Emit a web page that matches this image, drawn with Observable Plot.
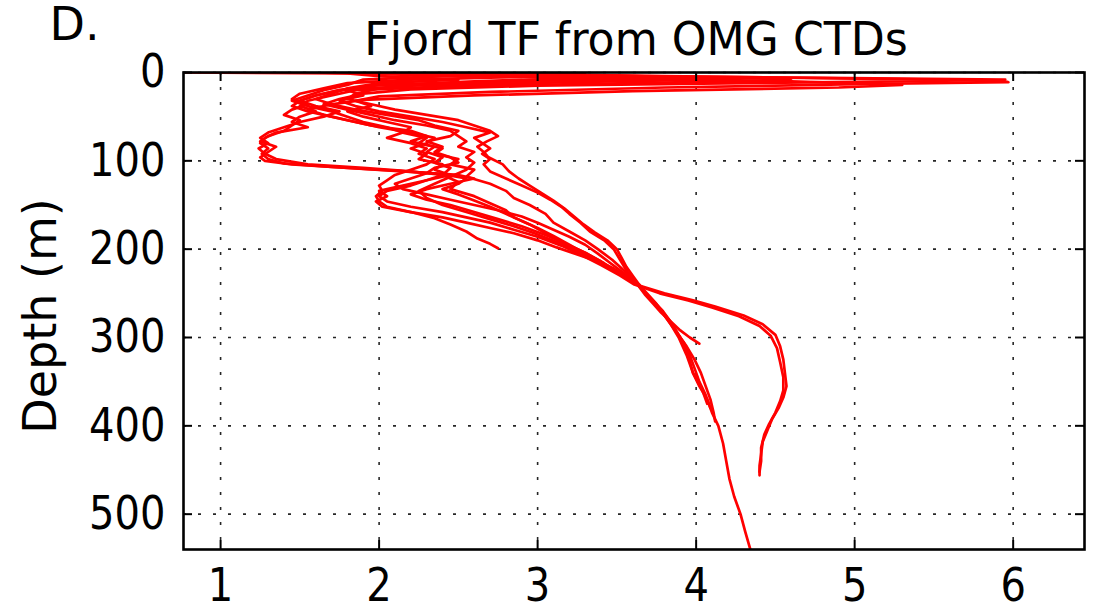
<!DOCTYPE html>
<html><head><meta charset="utf-8">
<script src="https://cdn.jsdelivr.net/npm/d3@7"></script>
<script src="https://cdn.jsdelivr.net/npm/@observablehq/plot@0.6"></script>
<style>
body{margin:0;background:#fff}
svg{font-family:"DejaVu Sans",sans-serif}
</style>
</head><body><div id="chart"></div>
<script>
const title = "Fjord TF from OMG CTDs";
const panelLabel = "D.";
const yLabel = "Depth (m)";
const xTicks = [1, 2, 3, 4, 5, 6];
const yTicks = [0, 100, 200, 300, 400, 500];

// each cast: [depth (m), thermal forcing]
const cast1 = [[0,2.1],[4,3.8],[9,5.9],[11,5.97],[13,5.1],[17,3.8],[22,2.7],[27,2.0],[32,1.85],[38,1.95],[44,1.8],[50,1.9],[56,2.05],[62,2.2],[68,2.15],[74,2.3],[80,2.25],[86,2.4],[92,2.35],[98,2.5],[104,2.45],[110,2.6],[118,2.55],[126,2.7],[134,2.8],[142,2.85],[150,2.95],[160,3.05],[170,3.1],[180,3.2],[190,3.3],[200,3.38],[212,3.47],[225,3.55],[240,3.63],[255,3.71],[270,3.79],[285,3.85],[300,3.9],[320,3.95],[340,3.98],[355,4.02],[370,4.07],[385,4.1],[400,4.14],[420,4.17],[440,4.19],[460,4.21],[480,4.24],[500,4.28],[520,4.31],[545,4.35]];
const cast2 = [[0,1.7],[5,3.2],[10,4.6],[14,5.3],[17,4.9],[21,3.6],[26,2.6],[31,1.9],[36,1.7],[42,1.55],[48,1.65],[54,1.8],[60,1.95],[66,2.2],[72,2.3],[78,2.2],[84,2.35],[90,2.3],[96,2.4],[102,2.35],[108,2.45],[116,2.4],[124,2.5],[132,2.45],[140,2.6],[148,2.7],[156,2.8],[164,2.85],[172,2.95],[182,3.05],[192,3.15],[204,3.3],[216,3.42],[228,3.53],[240,3.63],[252,3.69],[265,3.76],[280,3.83],[295,3.88],[310,3.94],[325,3.99],[340,4.03],[355,4.06],[370,4.09],[385,4.11],[395,4.12]];
const cast3 = [[0,1.9],[3,3.0],[7,4.5],[9,4.6],[12,3.6],[16,2.4],[20,1.85],[26,1.7],[32,1.55],[38,1.5],[44,1.6],[50,1.5],[56,1.45],[62,1.55],[68,1.35],[74,1.28],[80,1.25],[86,1.3],[92,1.26],[98,1.3],[103,1.4],[107,1.7],[111,2.1],[115,2.4],[120,2.55],[126,2.5],[132,2.4],[138,2.5],[145,2.6],[152,2.7],[160,2.8],[168,2.9],[176,3.0],[185,3.1],[195,3.2],[205,3.3],[217,3.42],[229,3.53],[240,3.62],[250,3.8],[258,3.98],[265,4.12],[275,4.3],[285,4.42],[297,4.5],[310,4.53],[325,4.55],[340,4.56],[355,4.57],[368,4.55],[380,4.52],[392,4.48],[405,4.45],[418,4.42],[432,4.41],[445,4.4],[456,4.4]];
const cast4 = [[0,1.75],[5,3.6],[8,4.1],[11,3.2],[15,2.2],[20,1.75],[26,1.6],[32,1.5],[38,1.6],[44,1.75],[50,1.65],[56,1.5],[62,1.4],[68,1.3],[74,1.25],[80,1.3],[86,1.24],[92,1.28],[98,1.35],[104,1.55],[108,1.9],[112,2.2],[116,2.4],[122,2.3],[128,2.2],[134,2.05],[140,2.0],[146,2.05],[152,2.2],[158,2.4],[164,2.55],[170,2.7],[178,2.85],[186,3.0],[196,3.15],[206,3.27],[218,3.4],[230,3.52],[240,3.61],[250,3.77],[258,3.95],[266,4.1],[276,4.27],[287,4.4],[298,4.47],[312,4.51],[328,4.53],[345,4.55],[360,4.55],[372,4.53],[385,4.5],[398,4.46],[410,4.43],[425,4.41],[440,4.41],[452,4.4]];
const cast5 = [[0,1.6],[4,2.5],[7,3.6],[10,2.8],[14,2.0],[20,1.8],[26,1.9],[32,1.75],[38,1.85],[44,2.0],[50,2.2],[56,2.4],[62,2.55],[68,2.7],[74,2.6],[80,2.65],[86,2.7],[92,2.65],[98,2.7],[104,2.66],[112,2.7],[120,2.8],[128,2.9],[136,3.0],[144,3.08],[152,3.15],[160,3.2],[170,3.27],[180,3.33],[190,3.42],[200,3.48],[212,3.52],[224,3.56],[240,3.63],[252,3.68],[262,3.73],[272,3.78],[282,3.84],[292,3.9],[300,3.96],[307,4.02]];
const cast6 = [[0,1.8],[2,3.3],[4,2.4],[8,1.9],[14,1.8],[20,1.65],[26,1.55],[32,1.45],[38,1.55],[44,1.7],[50,1.8],[56,1.9],[62,2.05],[68,2.15],[74,2.05],[80,2.2],[86,2.3],[92,2.25],[98,2.35],[104,2.3],[110,2.2],[116,2.1],[122,2.05],[128,2.0],[134,2.02],[140,1.98],[146,2.0],[152,2.05],[158,2.2],[165,2.35],[172,2.45],[180,2.55],[188,2.62],[194,2.7],[199,2.75]];
const cast7 = [[0,0.77],[1,1.8],[4,2.0],[8,2.5],[12,2.0],[18,1.8],[24,1.7],[30,1.6],[36,1.7],[42,1.85],[48,2.05],[54,2.25],[60,2.35],[66,2.5],[72,2.45],[78,2.3],[84,2.4],[90,2.35],[96,2.45],[102,2.5],[108,2.35],[114,2.3],[120,2.2],[126,2.1],[132,2.15],[138,2.3],[144,2.45],[150,2.6],[156,2.75],[163,2.9],[170,3.0],[178,3.1],[186,3.2],[195,3.3],[205,3.38],[216,3.46],[228,3.55],[240,3.64],[250,3.69],[262,3.75],[275,3.8],[290,3.86],[305,3.92],[320,3.96],[335,3.99],[350,4.02],[365,4.06],[380,4.09]];
const cast8 = [[0,2.2],[3,3.4],[6,4.0],[9,3.1],[13,2.3],[18,2.0],[24,1.85],[30,1.8],[36,1.95],[42,2.1],[48,2.3],[54,2.5],[60,2.6],[66,2.7],[72,2.75],[78,2.68],[84,2.62],[90,2.66],[96,2.69],[104,2.78],[112,2.82],[120,2.88],[128,2.95],[136,3.02],[145,3.1],[154,3.17],[163,3.23],[172,3.29],[181,3.36],[190,3.44],[200,3.5],[210,3.53],[220,3.56],[230,3.6],[240,3.64],[250,3.68],[258,3.72],[270,3.78],[285,3.84],[300,3.89],[320,3.94],[340,3.98],[360,4.04],[375,4.07]];
const cast9 = [[0,1.85],[3,2.8],[6,3.3],[10,2.6],[15,1.95],[20,1.75],[26,1.6],[32,1.5],[38,1.45],[44,1.55],[50,1.7],[56,1.85],[62,2.0],[68,2.2],[74,2.35],[80,2.3],[86,2.2],[92,2.3],[98,2.25],[104,2.4],[110,2.35],[116,2.45],[122,2.3],[128,2.15],[134,2.0],[140,2.05],[146,1.98],[152,2.02],[158,2.2],[164,2.4],[170,2.55],[176,2.7],[182,2.85],[190,3.0],[198,3.12],[206,3.25],[214,3.38],[222,3.48],[231,3.56],[240,3.63]];
const cast10 = [[0,1.7],[2,2.3],[5,2.9],[8,2.2],[12,1.8],[18,1.65],[24,1.5],[30,1.45],[36,1.55],[42,1.45],[48,1.4],[54,1.5],[60,1.45],[66,1.4],[72,1.3],[78,1.25],[84,1.35],[90,1.3],[96,1.25],[100,1.28],[104,1.45],[108,1.8],[112,2.15],[116,2.5],[120,2.6],[126,2.45],[132,2.3],[138,2.2],[144,2.3],[150,2.45],[158,2.6],[166,2.75],[174,2.9],[184,3.05],[194,3.18],[204,3.3],[214,3.4],[226,3.5],[240,3.62]];
const cast11 = [[0,1.9],[3,3.0],[6,4.8],[8,5.95],[10,5.3],[12,4.3],[15,3.0],[19,2.2],[24,1.9],[30,1.75],[36,1.65],[42,1.8],[48,1.95],[54,2.1],[60,2.3],[66,2.45],[72,2.5],[78,2.55],[84,2.5],[90,2.6],[96,2.55],[102,2.6],[110,2.55],[118,2.45],[126,2.35],[134,2.25],[142,2.3],[150,2.4],[158,2.55],[166,2.7],[174,2.85],[182,2.98],[192,3.12],[202,3.25],[214,3.38],[226,3.5],[240,3.63]];

const casts = [cast1, cast2, cast3, cast4, cast5, cast6, cast7, cast8, cast9, cast10, cast11];
const rows = casts.flatMap((c, i) => c.map(([depth, tf]) => ({cast: i, depth, tf})));

const W = 1098, H = 614, mT = 72, mB = 65, mL = 183, mR = 14;
const fw = W - mL - mR, fh = H - mT - mB, tk = 9;
const gridStyle = {stroke: "#000", strokeOpacity: 0.85, strokeWidth: 1.6, strokeDasharray: "3,12"};
const FS = 46;

const chart = Plot.plot({
  width: W, height: H,
  marginTop: mT, marginBottom: mB, marginLeft: mL, marginRight: mR,
  style: {fontFamily: '"DejaVu Sans",sans-serif', fontSize: FS + "px", background: "#fff", color: "#000"},
  x: {domain: [0.766, 6.45]},
  y: {domain: [0, 540], reverse: true},
  marks: [
    Plot.gridX(xTicks, gridStyle),
    Plot.gridY(yTicks, gridStyle),
    Plot.line(rows, {x: "tf", y: "depth", z: "cast", stroke: "#ff0000", strokeWidth: 2.7, clip: true}),
    Plot.frame({stroke: "#000", strokeWidth: 2.6}),
    Plot.tickX(xTicks, {x: d => d, insetBottom: fh - tk, stroke: "#000", strokeWidth: 2}),
    Plot.tickX(xTicks, {x: d => d, insetTop: fh - tk, stroke: "#000", strokeWidth: 2}),
    Plot.tickY(yTicks, {y: d => d, insetRight: fw - tk, stroke: "#000", strokeWidth: 2}),
    Plot.tickY(yTicks, {y: d => d, insetLeft: fw - tk, stroke: "#000", strokeWidth: 2}),
    Plot.axisX(xTicks, {anchor: "bottom", tickSize: 0, tickPadding: 19, tickFormat: d => String(d), label: null, fontSize: FS}),
    Plot.axisY(yTicks, {anchor: "left", tickSize: 0, tickPadding: 18, tickFormat: d => String(d), label: null, fontSize: FS}),
    Plot.text([title], {frameAnchor: "top", lineAnchor: "middle", dx: 2, dy: -33, fontSize: 47, fill: "#000"}),
    Plot.text([panelLabel], {frameAnchor: "top-left", lineAnchor: "middle", dx: -134, dy: -47, textAnchor: "start", fontSize: FS, fill: "#000"}),
    Plot.text([yLabel], {frameAnchor: "left", textAnchor: "middle", lineAnchor: "middle", dx: -142, dy: 5, rotate: -90, fontSize: FS, fill: "#000"})
  ]
});
document.getElementById("chart").append(chart);

// narrow the glyphs to match the reference's compressed lettering
function squeeze(sel, k) {
  d3.select(chart).selectAll(sel).each(function() {
    const w = this.getComputedTextLength();
    if (w > 0) {
      this.setAttribute("textLength", (w * k).toFixed(1));
      this.setAttribute("lengthAdjust", "spacingAndGlyphs");
    }
  });
}
squeeze('g[aria-label="y-axis tick label"] text', 0.87);
squeeze('g[aria-label="x-axis tick label"] text', 0.87);
d3.select(chart).selectAll("text").filter(function() { return this.textContent === title; })
  .each(function() {
    const w = this.getComputedTextLength();
    this.setAttribute("textLength", (w * 0.94).toFixed(1));
    this.setAttribute("lengthAdjust", "spacingAndGlyphs");
  });
</script>
</body></html>
